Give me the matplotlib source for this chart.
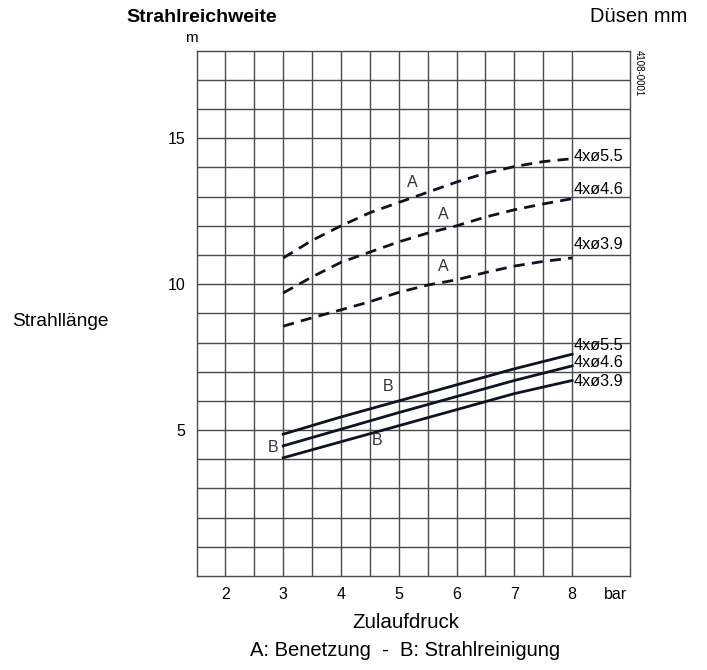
import numpy as np
import matplotlib
matplotlib.use("Agg")
import matplotlib.pyplot as plt

plt.rcParams['font.family'] = ['Liberation Sans', 'DejaVu Sans']

# Benetzung (A) - dashed curves
a_x = [3, 3.5, 4, 4.5, 5, 5.5, 6, 6.5, 7, 7.5, 8]
a_55 = [10.9, 11.5, 12.0, 12.45, 12.8, 13.15, 13.5, 13.8, 14.03, 14.2, 14.3]
a_46 = [9.7, 10.25, 10.75, 11.1, 11.45, 11.75, 12.0, 12.3, 12.55, 12.75, 12.93]
a_39 = [8.56, 8.85, 9.12, 9.4, 9.72, 9.97, 10.15, 10.4, 10.62, 10.78, 10.9]

# Strahlreinigung (B) - solid lines
b_x = [3, 4, 5, 6, 7, 8]
b_55 = [4.86, 5.45, 6.0, 6.55, 7.1, 7.6]
b_46 = [4.46, 5.03, 5.6, 6.15, 6.7, 7.2]
b_39 = [4.05, 4.6, 5.15, 5.7, 6.25, 6.7]

nozzles = ["4xø5.5", "4xø4.6", "4xø3.9"]
x_ticks = [2, 3, 4, 5, 6, 7, 8, 8.75]
x_labels = ["2", "3", "4", "5", "6", "7", "8", "bar"]
y_ticks = [5, 10, 15]

line_col = '#0d1321'
grid_col = '#4a4a4a'

fig = plt.figure(figsize=(7.07, 6.7), dpi=100)
ax = fig.add_axes([0.278, 0.1403, 0.613, 0.784])
ax.set_xlim(1.5, 9)
ax.set_ylim(0, 18)

# grid: every 0.5 bar up to 8, every 1 m
for gx in np.arange(2, 8.01, 0.5):
    ax.axvline(gx, color=grid_col, lw=1, zorder=1)
for gy in range(1, 18):
    ax.axhline(gy, color=grid_col, lw=1, zorder=1)
for s in ax.spines.values():
    s.set_color(grid_col)
    s.set_linewidth(1)

ax.set_xticks(x_ticks, x_labels)
ax.set_yticks(y_ticks)
ax.tick_params(length=0, labelsize=11.5, pad=8)

for ys in [a_55, a_46, a_39]:
    ax.plot(a_x, ys, color=line_col, lw=2, dashes=(4, 2.6), zorder=3)
for ys in [b_55, b_46, b_39]:
    ax.plot(b_x, ys, color=line_col, lw=2, zorder=3)

# curve labels
for name, y in zip(nozzles, [14.38, 13.25, 11.36]):
    ax.text(8.03, y, name, fontsize=11.7, va='center', ha='left', zorder=4)
for name, y in zip(nozzles, [7.89, 7.3, 6.65]):
    ax.text(8.03, y, name, fontsize=11.7, va='center', ha='left', zorder=4)

for x, y in [(5.23, 13.49), (5.77, 12.39), (5.77, 10.6)]:
    ax.text(x, y, "A", fontsize=11.5, color='#333333', ha='center', va='center')
for x, y in [(4.82, 6.48), (2.83, 4.42), (4.63, 4.66)]:
    ax.text(x, y, "B", fontsize=11.5, color='#333333', ha='center', va='center')

fig.text(201.7 / 707, 1 - 17 / 670, "Strahlreichweite", fontsize=14, fontweight='bold',
         ha='center', va='center')
fig.text(191.7 / 707, 1 - 38 / 670, "m", fontsize=11, ha='center', va='center')
fig.text(687 / 707, 1 - 17 / 670, "Düsen mm", fontsize=14.5, ha='right', va='center')
fig.text(639 / 707, 1 - 73 / 670, "4108-0001", fontsize=7, rotation=-90,
         ha='center', va='center')
fig.text(12 / 707, 1 - 321 / 670, "Strahllänge", fontsize=13.8, ha='left', va='center')
fig.text(406 / 707, 1 - 623 / 670, "Zulaufdruck", fontsize=14.8, ha='center', va='center')
fig.text(405 / 707, 1 - 651 / 670, "A: Benetzung  -  B: Strahlreinigung", fontsize=14.5,
         ha='center', va='center')

fig.savefig("out.png", dpi=100)
